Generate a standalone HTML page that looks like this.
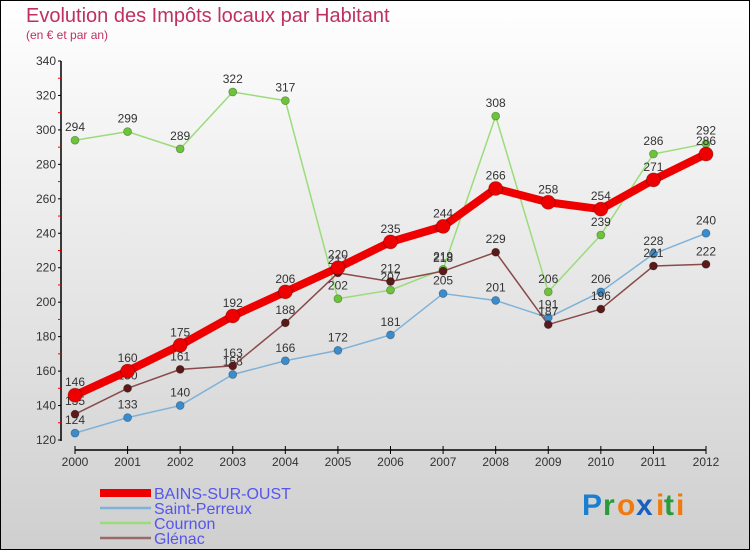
<!DOCTYPE html>
<html><head><meta charset="utf-8"><style>
html,body{margin:0;padding:0;}
body{width:750px;height:550px;overflow:hidden;font-family:"Liberation Sans",sans-serif;}
svg text{font-family:"Liberation Sans",sans-serif;}
</style></head><body>
<svg id="chart" width="750" height="550" viewBox="0 0 750 550" xmlns="http://www.w3.org/2000/svg">
<defs><linearGradient id="bg" x1="0" y1="0" x2="0" y2="1"><stop offset="0" stop-color="#ffffff"/><stop offset="1" stop-color="#cfcfcf"/></linearGradient></defs>
<rect x="0.5" y="0.5" width="749" height="549" fill="url(#bg)" stroke="#000" stroke-width="1"/>
<text x="26" y="22" font-size="20" fill="#c0305f">Evolution des Impôts locaux par Habitant</text>
<text x="26" y="39" font-size="12" fill="#c0305f">(en € et par an)</text>
<g id="axes"></g>
<g id="series"></g>
<g id="legend"></g>
<g font-size="30" font-weight="bold">
<text x="582" y="515" fill="#1a7fd0">P</text><text x="603" y="515" fill="#2a9a3a">r</text><text x="617" y="515" fill="#f07a10">o</text><text x="636" y="515" fill="#1a5fc0">x</text><text x="656" y="515" fill="#f07a10">i</text><text x="664" y="515" fill="#2a9a3a">t</text><text x="676" y="515" fill="#f07a10">i</text>
</g>
</svg>
<script>
const years = [2000,2001,2002,2003,2004,2005,2006,2007,2008,2009,2010,2011,2012];
const yTicks = [120,140,160,180,200,220,240,260,280,300,320,340];
const bains = [146,160,175,192,206,220,235,244,266,258,254,271,286];
const perreux = [124,133,140,158,166,172,181,205,201,191,206,228,240];
const cournon = [294,299,289,322,317,202,207,219,308,206,239,286,292];
const glenac = [135,150,161,163,188,217,212,218,229,187,196,221,222];
const seriesNames = ["BAINS-SUR-OUST","Saint-Perreux","Cournon","Glénac"];

const NS="http://www.w3.org/2000/svg";
const x = i => 75 + i*(706-75)/12;
const y = v => 440 - (v-120)*(440-61)/220;
function mk(tag, attrs, parent){const e=document.createElementNS(NS,tag);for(const k in attrs)e.setAttribute(k,attrs[k]);parent.appendChild(e);return e;}
const axes=document.getElementById('axes');
let yl=mk('line',{x1:61,y1:61,x2:61,y2:441,stroke:'#000','stroke-width':1.5},axes);


let xl=mk('line',{x1:75,y1:450,x2:706,y2:450,stroke:'#000','stroke-width':1.5},axes);


yTicks.forEach((v,i)=>{
  mk('line',{x1:58,x2:61,y1:y(v),y2:y(v),stroke:'#000'},axes);
  if(i<yTicks.length-1) mk('line',{x1:58,x2:61,y1:y(v+10),y2:y(v+10),stroke:'#e00'},axes);
  const t=mk('text',{x:56,y:y(v)+4,'font-size':12,'text-anchor':'end',fill:'#333'},axes);
  t.textContent=v;
  
  
});
years.forEach((yr,i)=>{
  mk('line',{x1:x(i),x2:x(i),y1:446,y2:454,stroke:'#000'},axes);
  const t=mk('text',{x:x(i),y:466,'font-size':12,'text-anchor':'middle',fill:'#333'},axes);
  t.textContent=yr;
  
  
});
const sg=document.getElementById('series');
function draw(data,color,width,r,dot,name,above){
  const g=mk('g',{},sg);
  
  
  const pl=mk('polyline',{points:data.map((v,i)=>x(i)+','+y(v)).join(' '),fill:'none',stroke:color,'stroke-width':width,'stroke-linejoin':'round'},g);
  data.forEach((v,i)=>{
    const c=mk('circle',{cx:x(i),cy:y(v),r:r,fill:dot,stroke:'rgba(0,0,0,0.3)','stroke-width':0.8},g);
    
    
    const t=mk('text',{x:x(i),y:y(v)-9,'font-size':12,'text-anchor':'middle',fill:'#333'},g);
    t.textContent=v;
    
    
  });
}
draw(perreux,'#7fb2d8',1.5,4,'#3a8ccc','series-saint-perreux');
draw(cournon,'#9bdc7a',1.5,4,'#6cc43a','series-cournon');
draw(glenac,'#8a4a4a',1.5,4,'#5a1a1a','series-glenac');
draw(bains,'#ee0000',8,7,'#ee0000','series-bains-sur-oust');
const lg=document.getElementById('legend');
const lcol=['#ee0000','#7fb2d8','#9bdc7a','#9a6a6a'];
const lw=[8,2.5,2.5,2.5];
seriesNames.forEach((n,i)=>{
  const g=mk('g',{},lg);
  
  
  const yy=493+i*15;
  mk('line',{x1:100,x2:151,y1:yy,y2:yy,stroke:lcol[i],'stroke-width':lw[i]},g);
  const t=mk('text',{x:154,y:yy+6,'font-size':16,fill:'#5555ee'},g);
  t.textContent=n;
});
</script>
</body></html>
